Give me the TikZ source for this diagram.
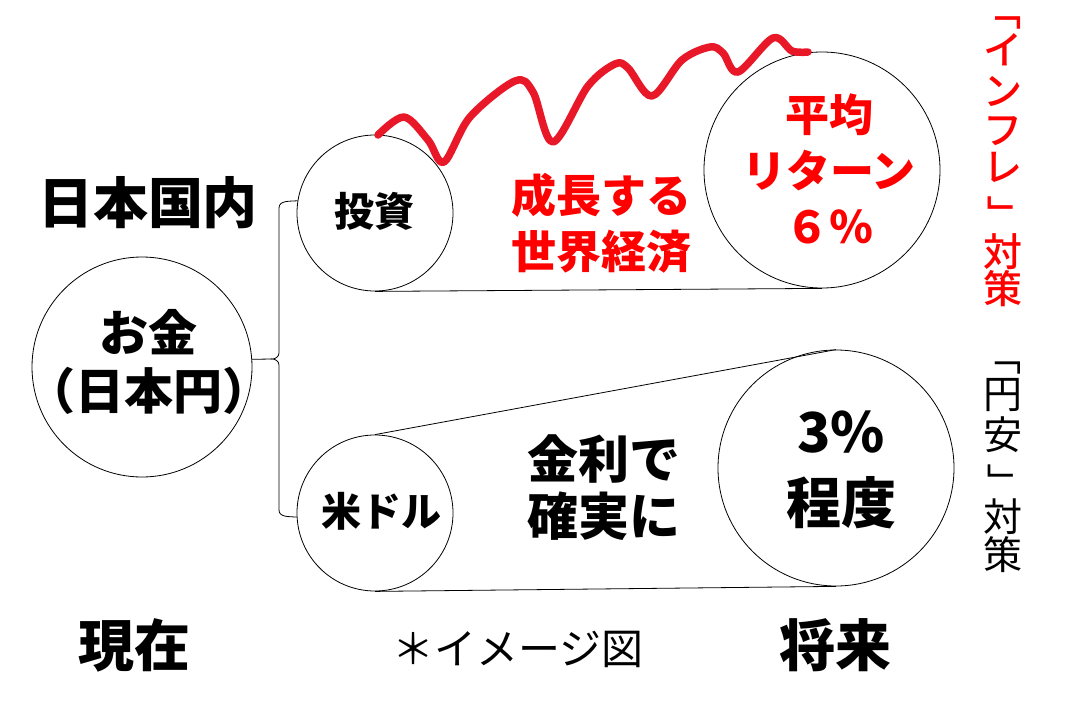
\documentclass[tikz,border=0pt]{standalone}
\usepackage{fontspec}
\newfontfamily\jp{Noto Sans CJK JP}
\newfontfamily\jpm{Noto Sans CJK JP Medium}
\definecolor{curvered}{RGB}{232,24,40}
\definecolor{txtred}{RGB}{255,0,0}
\newcommand{\vopen}{\rotatebox[origin=c]{-90}{「}}
\newcommand{\vclose}{\rotatebox[origin=c]{-90}{」}}
\begin{document}
\begin{tikzpicture}[x=1pt,y=-1pt,
  ring/.style={circle,draw=black,line width=0.8pt,inner sep=0pt},
  thin/.style={draw=black,line width=0.8pt},
  lbl/.style={inner sep=0pt,align=center,text=black},
  jb/.style={font={\jp\bfseries\fontsize{#1}{#1}\selectfont}},
  redtxt/.style={text=txtred},
  vred/.style={inner sep=0pt,text=txtred,font={\jpm\fontsize{39}{39}\selectfont},text height=0.88em,text depth=0.12em},
  vblk/.style={inner sep=0pt,text=black,font={\jp\fontsize{39}{39}\selectfont},text height=0.88em,text depth=0.12em},
  vbr/.style={inner sep=0pt}]
\useasboundingbox (0,0) rectangle (1072,704);
% circles
\node[ring,minimum size=220pt] (money) at (142,367) {};
\node[ring,minimum size=156pt] (invest) at (375,213) {};
\node[ring,minimum size=156pt] (usd) at (375,513) {};
\node[ring,minimum size=236pt] (avg) at (822,170) {};
\node[ring,minimum size=236pt] (bond) at (836,468) {};
% tangent lines
\draw[thin] (invest.south) -- (avg.south);
\draw[thin] (usd.north) -- (bond.north);
\draw[thin] (usd.south) -- (bond.south);
% brace
\coordinate (tip) at (272,359);
\draw[thin] (invest.171) to[out=185,in=90] (279,208) -- (279,353) to[out=-90,in=0] (tip)
  to[out=0,in=90] (279,365) -- (279,510) to[out=-90,in=175] (usd.183);
\draw[thin] (money.4) -- (tip);
% red curve
\draw[curvered,line width=7.5pt,line cap=round,line join=round]
  plot[smooth,tension=0.55] coordinates {(378,135) (404,117) (428,140) (444,162) (470,117) (515,81) (533,92) (553,142) (588,86) (615,64) (628,68) (652,96) (682,60) (710,47) (723,53) (738,72) (773,38) (792,51) (808,52)};
% texts
\node[lbl,jb=55] (jp) at (148,203) {日本国内};
\node[lbl,font={\jp\bfseries\fontsize{49}{58}\selectfont}] (moneytxt) at (149,362) {お金\\（日本円）};
\node[lbl,jb=40] (investtxt) at (374,211) {投資};
\node[lbl,jb=40] (usdtxt) at (381,511) {米ドル};
\node[lbl,redtxt,font={\jp\bfseries\fontsize{45}{56}\selectfont}] (growth) at (601,223) {成長する\\世界経済};
\node[lbl,redtxt,font={\jp\bfseries\fontsize{44}{56}\selectfont}] (avgtxt) at (829,169) {平均\\リターン\\６％};
\node[lbl,font={\jp\bfseries\fontsize{51}{57}\selectfont}] (rate) at (604,488) {金利で\\確実に};
\node[lbl,font={\jp\bfseries\fontsize{55}{71}\selectfont}] (bondtxt) at (841,470) {3\%\\程度};
\node[lbl,jb=56] (now) at (134,645) {現在};
\node[lbl,jb=56] (future) at (835,645) {将来};
\node[lbl,font={\jp\fontsize{42}{42}\selectfont}] (image) at (518,649) {＊イメージ図};
% vertical texts
\node[vred,vbr] (r1) at (1004,24) {\vopen};
\node[vred] (r2) at (1003,61) {イ};
\node[vred] (r3) at (1003,102) {ン};
\node[vred] (r4) at (1003,141) {フ};
\node[vred] (r5) at (1003,178) {レ};
\node[vred,vbr] (r6) at (1001,220) {\vclose};
\node[vred] (r7) at (1003,263) {対};
\node[vred] (r8) at (1003,300) {策};
\node[vblk,vbr] (b1) at (1004,369) {\vopen};
\node[vblk] (b2) at (1003,405) {円};
\node[vblk] (b3) at (1003,446) {安};
\node[vblk,vbr] (b4) at (1001,488) {\vclose};
\node[vblk] (b5) at (1003,528) {対};
\node[vblk] (b6) at (1003,566) {策};
\end{tikzpicture}
\end{document}
